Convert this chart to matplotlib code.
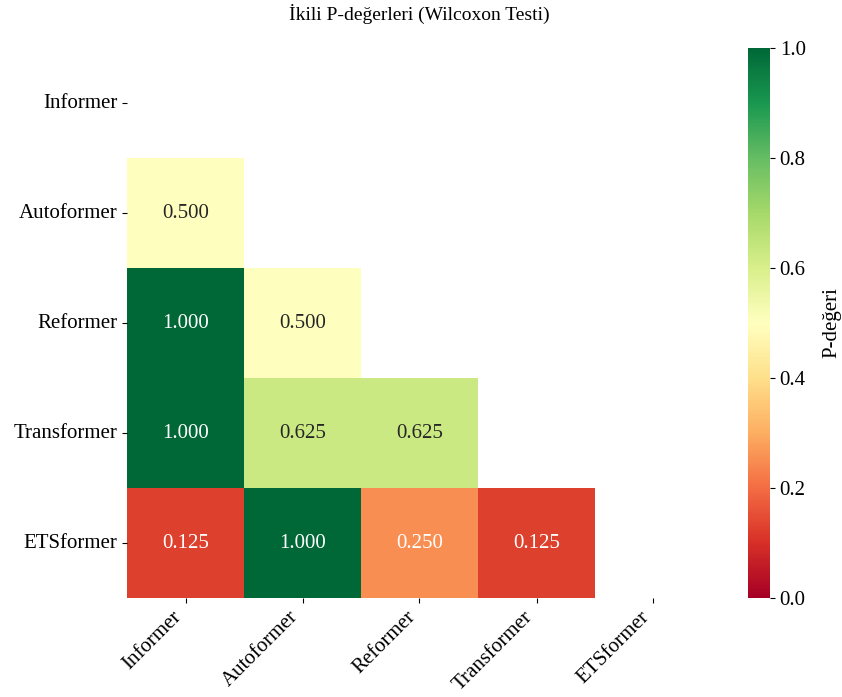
import numpy as np
import matplotlib
matplotlib.use("Agg")
import matplotlib.pyplot as plt
import seaborn as sns

models = ["Informer", "Autoformer", "Reformer", "Transformer", "ETSformer"]

# lower-triangle p-values, row by row
row_autoformer = [0.500]
row_reformer = [1.000, 0.500]
row_transformer = [1.000, 0.625, 0.625]
row_etsformer = [0.125, 1.000, 0.250, 0.125]

n = len(models)
pvals = np.ones((n, n))
for i, row in enumerate([row_autoformer, row_reformer, row_transformer, row_etsformer], start=1):
    pvals[i, :len(row)] = row

mask = np.triu(np.ones((n, n), dtype=bool))

plt.rcParams['font.family'] = ['Liberation Serif', 'DejaVu Serif']

fig = plt.figure(figsize=(8.42, 6.97), dpi=100)
ax = fig.add_axes([127 / 842, 1 - 598 / 697, 585 / 842, 550 / 697])
cax = fig.add_axes([748 / 842, 1 - 598 / 697, 22 / 842, 550 / 697])

sns.heatmap(pvals, mask=mask, annot=True, fmt=".3f", cmap="RdYlGn", vmin=0, vmax=1,
            xticklabels=models, yticklabels=models, ax=ax, cbar_ax=cax,
            annot_kws={"fontsize": 15}, cbar_kws={"label": "P-değeri"})

ax.set_title("İkili P-değerleri (Wilcoxon Testi)", fontsize=14, pad=20)
ax.tick_params(axis='both', labelsize=15)
plt.setp(ax.get_xticklabels(), rotation=45, ha="right")
plt.setp(ax.get_yticklabels(), rotation=0)
cax.tick_params(labelsize=15)
cax.set_ylabel("P-değeri", fontsize=15, labelpad=12)

fig.savefig("out.png", dpi=100)
